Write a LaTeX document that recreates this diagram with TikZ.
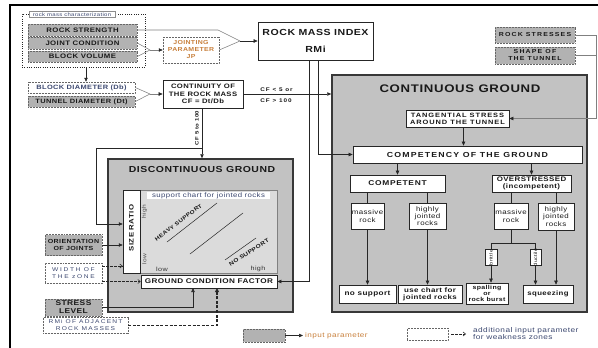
\documentclass[tikz,border=0pt]{standalone}
\usepackage{fontspec}
\setmainfont{Liberation Sans}[FakeStretch=1.2,LetterSpace=6]
\usetikzlibrary{arrows.meta}
\newcommand\fsz[2]{\fontsize{#1}{#2}\selectfont}
\newcommand\lsp[1]{\addfontfeature{LetterSpace=#1}}
\definecolor{orng}{RGB}{200,128,60}
\definecolor{bluegray}{RGB}{60,72,112}
\tikzset{
  inp/.style={draw=black!60, densely dotted, line width=0.5pt, fill=black!30, inner sep=0pt, align=center, text=black!90},
  inw/.style={inp, fill=white},
  bx/.style={draw=black!85, solid, line width=0.6pt, fill=white, inner sep=0pt, align=center, text=black!90},
  bigbox/.style={draw=black!78, line width=1.5pt, fill=black!24, inner sep=0pt},
  con/.style={draw=black!85, line width=0.55pt},
  gcon/.style={draw=black!50, line width=0.55pt},
  arr/.style={con, -{Triangle[length=4pt,width=3.4pt]}},
  garr/.style={gcon, -{Triangle[length=4pt,width=3.4pt,color=black!85]}},
  darr/.style={con, dash pattern=on 2.5pt off 1.5pt, -{Straight Barb[length=2.5pt,width=4pt]}},
  tdarr/.style={con, line width=1.1pt, dash pattern=on 3pt off 1.6pt, -{Triangle[length=4pt,width=3.8pt]}},
  lbl/.style={inner sep=0pt, align=center, text=black!90},
}
\begin{document}
\begin{tikzpicture}[x=1pt,y=-1pt]
\useasboundingbox (0,0) rectangle (598,348);
% outer frame
\draw[line width=1.8pt, black] (598,5) -- (10,5) -- (10,348);

% big areas
\node[bigbox, minimum width=255pt, minimum height=237pt] (cont) at (459.5,193.5) {};
\node[bigbox, minimum width=185pt, minimum height=153pt] (disc) at (200.5,235.5) {};
\node[lbl, font=\bfseries\fsz{11}{12}] (contT) at (460,88.5) {CONTINUOUS GROUND};
\node[lbl, font=\bfseries\fsz{8.7}{10}] (discT) at (202,170) {DISCONTINUOUS GROUND};

% top left group
\node[draw=black!85, line width=1pt, dash pattern=on 1pt off 1.3pt, minimum width=123pt, minimum height=53pt, inner sep=0pt] (rmc) at (83.5,40.5) {};
\node[draw=black!45, line width=0.4pt, fill=white, inner sep=0.8pt, minimum width=86pt, minimum height=6pt, font=\fsz{5}{5}, text=bluegray] (rmcL) at (72,14.5) {rock mass characterization};
\node[inp, minimum width=109pt, minimum height=12pt, font=\bfseries\fsz{6.5}{7}] (rs) at (82.5,30) {ROCK STRENGTH};
\node[inp, minimum width=109pt, minimum height=12pt, font=\bfseries\fsz{6.5}{7}] (jc) at (82.5,43) {JOINT CONDITION};
\node[inp, minimum width=109pt, minimum height=11pt, font=\bfseries\fsz{6.5}{7}] (bv) at (82.5,56.5) {BLOCK VOLUME};
\node[inw, minimum width=56pt, minimum height=26pt, text=orng, font=\bfseries\fsz{5.8}{7}] (jp) at (191,50) {JOINTING\\PARAMETER\\JP};
\node[bx, minimum width=115pt, minimum height=38pt, font=\bfseries\fsz{8.8}{11}] (rmi) at (315.5,41) {ROCK MASS INDEX\\[6pt]RMi};
\node[inw, minimum width=107pt, minimum height=11pt, text=bluegray, font=\bfseries\fsz{6.2}{7}] (bd) at (81.5,87.5) {BLOCK DIAMETER (Db)};
\node[inp, minimum width=107pt, minimum height=11pt, font=\bfseries\fsz{6.2}{7}] (td) at (81.5,101.5) {TUNNEL DIAMETER (Dt)};
\node[bx, minimum width=80pt, minimum height=28pt, font=\bfseries\fsz{6.4}{7.5}] (cf) at (203,94) {CONTINUITY OF\\THE ROCK MASS\\CF = Dt/Db};
\node[lbl, font=\bfseries\fsz{5.3}{6}\lsp{18}] (cfa) at (276.5,89.5) {CF < 5 or};
\node[lbl, font=\bfseries\fsz{5.3}{6}\lsp{18}] (cfb) at (276,100.5) {CF > 100};
\node[lbl, rotate=90, font=\bfseries\fsz{5}{6}] (cfc) at (197,128) {CF 5 to 100};

% top right
\node[inp, minimum width=80pt, minimum height=16pt, font=\bfseries\fsz{5.8}{7}\lsp{20}] (rst) at (535,35) {ROCK STRESSES};
\node[inp, minimum width=80pt, minimum height=17pt, font=\bfseries\fsz{5.8}{7}\lsp{20}] (shp) at (535,55.5) {SHAPE OF\\THE TUNNEL};

% continuous ground content
\node[bx, minimum width=103pt, minimum height=17pt, font=\bfseries\fsz{6.2}{7}\lsp{15}] (tang) at (457.5,118.5) {TANGENTIAL STRESS\\AROUND THE TUNNEL};
\node[bx, minimum width=229pt, minimum height=17pt, font=\bfseries\fsz{7.3}{8}\lsp{16}] (comp) at (467.5,154.5) {COMPETENCY OF THE GROUND};
\node[bx, minimum width=95pt, minimum height=17pt, font=\bfseries\fsz{7}{8}\lsp{10}] (cpt) at (397.5,183.5) {COMPETENT};
\node[bx, minimum width=79pt, minimum height=17pt, font=\bfseries\fsz{6.6}{7.2}] (ovr) at (531.5,183.5) {OVERSTRESSED\\(incompetent)};
\node[bx, minimum width=33pt, minimum height=26pt, font=\fsz{6.6}{7.6}] (m1) at (367.5,216) {massive\\rock};
\node[bx, minimum width=37pt, minimum height=26pt, font=\fsz{6.6}{7.3}] (h1) at (427.5,216) {highly\\jointed\\rocks};
\node[bx, minimum width=34pt, minimum height=26pt, font=\fsz{6.6}{7.6}] (m2) at (511,216) {massive\\rock};
\node[bx, minimum width=36pt, minimum height=27pt, font=\fsz{6.6}{7.3}] (h2) at (556,216.5) {highly\\jointed\\rocks};
\node[bx, line width=0.5pt, minimum width=12pt, minimum height=16pt] (brit) at (491,257.5) {};
\node[lbl, rotate=90, font=\fsz{4.6}{5}] (britT) at (brit.center) {brittle};
\node[bx, line width=0.5pt, minimum width=11pt, minimum height=16pt] (duct) at (535.5,257.5) {};
\node[lbl, rotate=90, font=\fsz{4.6}{5}] (ductT) at (duct.center) {ductile};
\node[bx, minimum width=57pt, minimum height=18pt, font=\bfseries\fsz{6.8}{7}] (ns) at (367.5,294) {no support};
\node[bx, minimum width=64pt, minimum height=18pt, font=\bfseries\fsz{6.6}{6.8}] (uc) at (430,294) {use chart for\\jointed rocks};
\node[bx, minimum width=42pt, minimum height=21pt, font=\bfseries\fsz{5.8}{6.2}] (spl) at (487,293.5) {spalling\\or\\rock burst};
\node[bx, minimum width=50pt, minimum height=18pt, font=\bfseries\fsz{6.5}{7}] (sq) at (548,294) {squeezing};

% discontinuous ground content
\node[draw=black!50, line width=0.4pt, fill=black!14, minimum width=137pt, minimum height=83pt, inner sep=0pt] (chart) at (208.5,231.5) {};
\node[bx, line width=0.5pt, minimum width=17pt, minimum height=83pt] (sr) at (131.5,231.5) {};
\node[lbl, rotate=90, font=\bfseries\fsz{6.5}{7}] (srT) at (131.5,228) {SIZE RATIO};
\node[fill=white, inner sep=0.5pt, minimum width=123pt, minimum height=7pt, text=bluegray, font=\fsz{6.5}{7}] (scl) at (208.5,195.5) {support chart for jointed rocks};
\node[lbl, rotate=90, font=\fsz{5.5}{6}, text=black!70] (hiV) at (144.5,212) {high};
\node[lbl, rotate=90, font=\fsz{5.5}{6}, text=black!70] (loV) at (144.5,259) {low};
\node[lbl, font=\fsz{6}{6}, text=black!80] (loH) at (162,269) {low};
\node[lbl, font=\fsz{6}{6}, text=black!80] (hiH) at (258,269) {high};
\draw[con, line width=0.5pt] (167,242) -- (217,203);
\draw[con, line width=0.5pt] (190,254) -- (243,213);
\draw[con, line width=0.5pt] (225,260) -- (256,238);
\node[lbl, rotate=37, font=\bfseries\fsz{5.3}{6}] (heavy) at (178.5,222.5) {HEAVY SUPPORT};
\node[lbl, rotate=33, font=\bfseries\fsz{5.5}{6}] (nosup) at (249,252.5) {NO SUPPORT};
\node[bx, minimum width=136pt, minimum height=13pt, font=\bfseries\fsz{6.8}{7}] (gcf) at (209,281.5) {GROUND CONDITION FACTOR};

% left inputs
\node[inp, minimum width=57pt, minimum height=21pt, font=\bfseries\fsz{5.9}{7}] (ori) at (73.5,245) {ORIENTATION\\OF JOINTS};
\node[inw, minimum width=57pt, minimum height=20pt, text=bluegray, font=\fsz{5.5}{7}\lsp{30}] (wid) at (73.5,273) {WIDTH OF\\THE zONE};
\node[inp, minimum width=57pt, minimum height=17pt, font=\bfseries\fsz{7}{8}] (stl) at (73.5,307.5) {STRESS\\LEVEL};
\node[inw, minimum width=85pt, minimum height=16pt, text=bluegray, font=\fsz{5.5}{7}\lsp{22}] (rad) at (85.5,325.5) {RMi OF ADJACENT\\ROCK MASSES};

% legend
\node[inp, minimum width=42pt, minimum height=13pt] (leg1) at (264,335.5) {};
\node[lbl, anchor=west, text=orng, font=\fsz{6.8}{7}] (legt1) at (305,335.5) {input parameter};
\node[inw, minimum width=41pt, minimum height=12pt] (leg2) at (427.5,334) {};
\node[lbl, anchor=west, align=left, text=bluegray, font=\fsz{6.9}{7}] (legt2) at (473,333.5) {additional input parameter\\for weakness zones};

% ---------- connectors ----------
\coordinate (j1) at (150,50);
\draw[gcon] (jc.east) -- (j1);
\draw[gcon] (bv.east) -- (j1);
\draw[garr] (j1) -- (jp.west);
\coordinate (j2) at (240,41);
\coordinate (rsk) at (218,30);
\draw[gcon] (rs.east) -- (rsk) -- (j2);
\draw[gcon] (jp.east) -- (j2);
\draw[arr] (j2) -- (rmi.west);
\draw[arr] ([xshift=2.5pt]rmc.south) -- ([xshift=4.5pt]bd.north);
\coordinate (j3) at (150,94);
\draw[gcon] (bd.east) -- (j3);
\draw[gcon] (td.east) -- (j3);
\draw[garr] (j3) -- (cf.west);
\draw[arr] (cf.east) -- (cf.east -| cont.west);
\draw[arr] ([xshift=-1pt]cf.south) -- ([xshift=-1pt]cf.south |- disc.north);
\coordinate (j4) at (202,148);
\coordinate (j5) at (96,224);
\draw[arr] (j4) -| (j5) -- (j5 -| sr.west);
\coordinate (rmB) at (318,60);
\coordinate (rmA) at (309,60);
\draw[arr] (rmB) |- (comp.west);
\draw[arr] (rmA) |- (gcf.east);
\coordinate (rr1) at (596,35);
\draw[gcon] (rst.east) -- (rr1);
\draw[gcon] (shp.east) -- (shp.east -| rr1);
\draw[garr] (rr1) |- (tang.east);
\draw[arr] ([xshift=6pt]tang.south) -- ([xshift=6pt]tang.south |- comp.north);
\draw[arr] (cpt.north |- comp.south) -- (cpt.north);
\draw[arr] (ovr.north |- comp.south) -- (ovr.north);
\draw[con] (m1.north |- cpt.south) -- (m1.north);
\draw[con] (h1.north |- cpt.south) -- (h1.north);
\draw[con] (m2.north |- ovr.south) -- (m2.north);
\draw[con] (h2.north |- ovr.south) -- (h2.north);
\draw[arr] (m1.south) -- (m1.south |- ns.north);
\draw[arr] (h1.south) -- (h1.south |- uc.north);
\coordinate (bj) at (511,243);
\draw[con] (m2.south) -- (bj);
\draw[con] (brit.north |- bj) -- (duct.north |- bj);
\draw[con] (brit.north |- bj) -- (brit.north);
\draw[con] (duct.north |- bj) -- (duct.north);
\draw[arr] (brit.south) -- (brit.south |- spl.north);
\draw[arr] (duct.south) -- (duct.south |- sq.north);
\draw[arr] (h2.south) -- (h2.south |- sq.north);
% left connectors
\draw[arr] (ori.east) -- (ori.east -| sr.west);
\coordinate (w1) at (102,266);
\coordinate (w2) at (102,281.5);
\draw[darr] (w1) -- (w1 -| sr.west);
\draw[darr] (w2) -- (w2 -| gcf.west);
\coordinate (g1) at (193,288);
\coordinate (g2) at (217,288);
\draw[arr] (stl.east) -| (g1);
\draw[tdarr] (rad.east) -| (g2);
% legend connectors
\coordinate (legA) at (303,335.5);
\draw[arr] (leg1.east) -- (legA);
\coordinate (legB) at (466,334);
\draw[darr] ([xshift=3pt]leg2.east) -- (legB);
\end{tikzpicture}
\end{document}
